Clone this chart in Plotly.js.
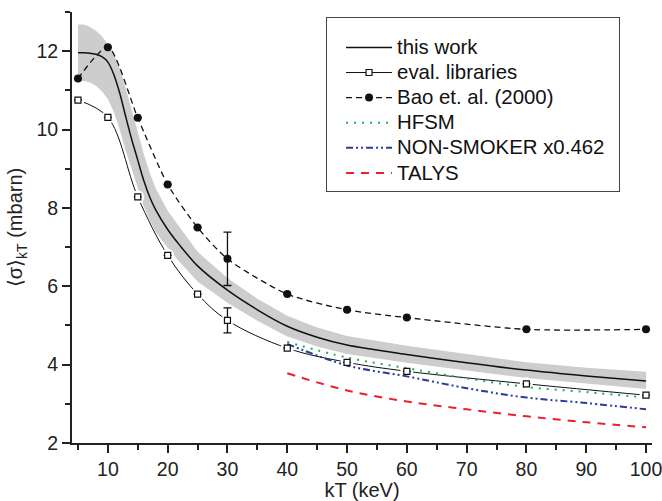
<!DOCTYPE html>
<html><head><meta charset="utf-8">
<script src="https://cdn.plot.ly/plotly-3.0.1.min.js"></script>
<style>html,body{margin:0;padding:0;background:#fff}#chart{width:662px;height:501px}</style>
</head><body><div id="chart"></div>
<script>
// this work (solid line) and its uncertainty band
const workX = [5,6,7,8,9,10,11,12,13,14,15,16,17,18,20,22,25,30,35,40,45,50,60,70,80,90,100];
const workY = [11.96,11.96,11.95,11.92,11.86,11.72,11.40,10.92,10.32,9.74,9.22,8.70,8.28,7.95,7.45,7.05,6.52,5.90,5.40,4.98,4.70,4.50,4.26,4.05,3.86,3.71,3.58];
const bandUpper = [12.68,12.68,12.62,12.52,12.38,12.18,11.92,11.55,11.05,10.48,9.90,9.38,8.90,8.50,7.93,7.50,6.88,6.21,5.68,5.25,4.95,4.73,4.48,4.27,4.06,3.92,3.82];
const bandLower = [11.24,11.24,11.20,11.12,10.98,10.78,10.45,9.98,9.45,8.94,8.50,8.04,7.68,7.38,6.98,6.62,6.12,5.58,5.12,4.72,4.46,4.27,4.05,3.85,3.66,3.52,3.38];
// evaluated libraries
const evalX = [5,10,15,20,25,30,40,50,60,80,100];
const evalY = [10.75,10.31,8.28,6.79,5.80,5.13,4.42,4.06,3.83,3.51,3.22];
const evalErr = [null,null,null,null,null,0.32,null,null,null,null,null];
// Bao et al. (2000)
const baoX = [5,10,15,20,25,30,40,50,60,80,100];
const baoY = [11.3,12.1,10.3,8.6,7.5,6.7,5.8,5.4,5.2,4.9,4.9];
const baoErr = [null,null,null,null,null,0.68,null,null,null,null,null];
// theory
const theoX = [40,50,60,70,80,90,100];
const hfsmY = [4.58,4.18,3.91,3.65,3.43,3.30,3.16];
const nonSmokerY = [4.53,3.98,3.70,3.40,3.16,3.02,2.86];
const talysY = [3.78,3.34,3.06,2.86,2.68,2.53,2.40];
// ticks
const xTicks = [10,20,30,40,50,60,70,80,90,100];
const yTicks = [2,4,6,8,10,12];

const FONT = '"Liberation Sans", Arial, sans-serif';
const bandX = workX.concat(workX.slice().reverse());
const bandY = bandUpper.concat(bandLower.slice().reverse());
const lg = s => '<span style="font-size:20.4px">' + s + '</span>';

const traces = [
  {x: bandX, y: bandY, mode: 'lines', fill: 'toself', fillcolor: '#cdcdcd',
   line: {width: 0}, showlegend: false, hoverinfo: 'skip'},
  {x: evalX, y: evalY, mode: 'lines', line: {color: '#111', width: 1, shape: 'spline', smoothing: 1},
   showlegend: false},
  {x: evalX, y: evalY, mode: 'markers', marker: {color: '#fff', size: 13, symbol: 'circle'},
   showlegend: false, hoverinfo: 'skip'},
  {x: workX, y: workY, mode: 'lines', name: lg('this work'), legendrank: 1,
   line: {color: '#111', width: 1.5, shape: 'spline', smoothing: 0.8}},
  {x: theoX, y: hfsmY, mode: 'lines', name: lg('HFSM'), legendrank: 4,
   line: {color: '#1aae55', width: 2, dash: '2px,6px', shape: 'spline'}},
  {x: theoX, y: nonSmokerY, mode: 'lines', name: lg('NON-SMOKER x0.462') + '&nbsp;&nbsp;', legendrank: 5,
   line: {color: '#2b3a9c', width: 2, dash: '7px,3px,2px,3px,2px,3px', shape: 'spline'}},
  {x: theoX, y: talysY, mode: 'lines', name: lg('TALYS'), legendrank: 6,
   line: {color: '#e8212b', width: 2, dash: '8px,7px', shape: 'spline'}},
  {x: baoX, y: baoY, mode: 'lines+markers', name: lg('Bao et. al. (2000)'), legendrank: 3,
   line: {color: '#111', width: 1.3, dash: '6px,4px', shape: 'spline', smoothing: 0.7},
   marker: {color: '#111', size: 8, symbol: 'circle'},
   error_y: {type: 'data', array: baoErr, visible: true, color: '#111', thickness: 1.3, width: 4}},
  {x: evalX, y: evalY, mode: 'markers', showlegend: false,
   marker: {color: '#fff', size: 6, symbol: 'square', line: {color: '#111', width: 1.2}},
   error_y: {type: 'data', array: evalErr, visible: true, color: '#111', thickness: 1.3, width: 4}},
  {x: [null], y: [null], mode: 'lines+markers', name: lg('eval. libraries'), legendrank: 2,
   line: {color: '#111', width: 1},
   marker: {color: '#fff', size: 6, symbol: 'square', line: {color: '#111', width: 1.2}}}
];

const tickFont = {family: FONT, size: 19.5, color: '#222'};
const axisCommon = {showline: true, linecolor: '#222', linewidth: 2, zeroline: false, showgrid: false,
  tickcolor: '#222', tickwidth: 2, tickfont: tickFont, ticklabeloverflow: 'allow'};

const layout = {
  width: 662, height: 501,
  margin: {l: 72, r: 10, t: 12, b: 58},
  paper_bgcolor: '#fff', plot_bgcolor: '#fff',
  font: {family: FONT, size: 19, color: '#222'},
  showlegend: true,
  legend: {x: 0.438, y: 0.988, xanchor: 'left', yanchor: 'top', bgcolor: '#fff',
    bordercolor: '#444', borderwidth: 1, font: {family: FONT, size: 17, color: '#111'},
    title: {text: '&nbsp;', font: {family: FONT, size: 9, color: '#fff'}},
    indentation: 14, itemwidth: 46, tracegroupgap: 0},
  xaxis: Object.assign({}, axisCommon, {range: [4, 101], tickmode: 'array', tickvals: xTicks,
    ticks: 'outside', ticklen: 8,
    minor: {dtick: 5, tick0: 0, ticks: 'outside', ticklen: 5, tickwidth: 2, tickcolor: '#222'},
    title: {text: 'kT (keV)', font: {family: FONT, size: 20, color: '#222'}, standoff: 5}}),
  yaxis: Object.assign({}, axisCommon, {range: [2, 13], tickmode: 'array', tickvals: yTicks,
    ticks: 'outside', ticklen: 8,
    minor: {dtick: 1, tick0: 0, ticks: 'outside', ticklen: 5, tickwidth: 2, tickcolor: '#222'},
    title: {text: '⟨σ⟩<sub>kT</sub> (mbarn)', font: {family: FONT, size: 20, color: '#222'}, standoff: 8}}),
  xaxis2: Object.assign({}, axisCommon, {range: [4, 101], overlaying: 'x', side: 'top', anchor: 'y',
    tickmode: 'array', tickvals: xTicks, ticks: 'inside', ticklen: 6, showticklabels: false,
    minor: {dtick: 5, tick0: 0, ticks: 'inside', ticklen: 5, tickwidth: 2, tickcolor: '#222'}}),
  yaxis2: Object.assign({}, axisCommon, {range: [2, 13], overlaying: 'y', side: 'right', anchor: 'x',
    tickmode: 'array', tickvals: yTicks, ticks: 'inside', ticklen: 7, showticklabels: false,
    minor: {dtick: 1, tick0: 0, ticks: 'inside', ticklen: 4, tickwidth: 2, tickcolor: '#222'}})
};

Plotly.newPlot('chart', traces, layout, {displayModeBar: false, staticPlot: true});
</script></body></html>
